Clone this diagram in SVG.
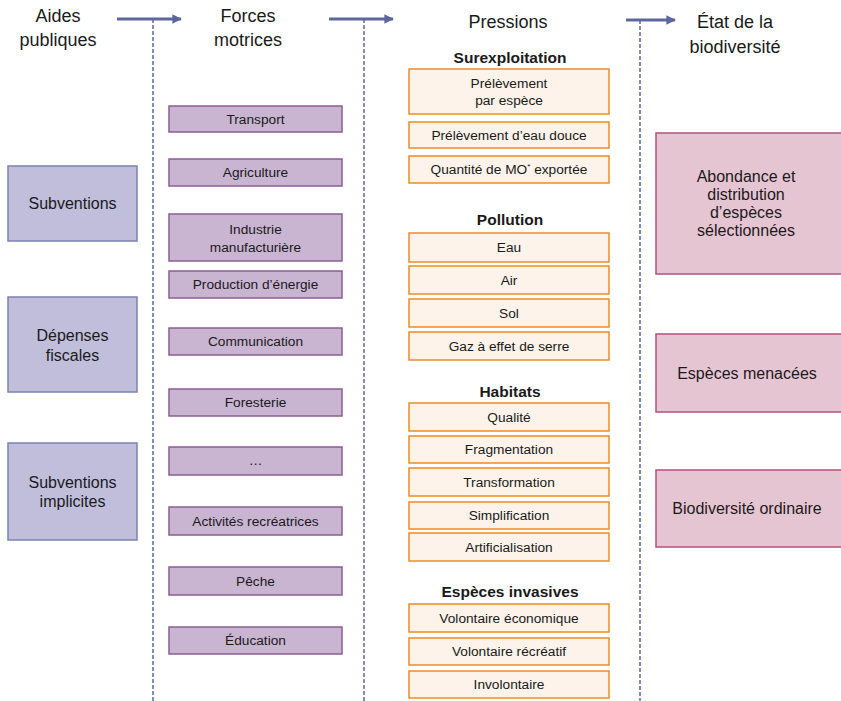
<svg xmlns="http://www.w3.org/2000/svg" width="841" height="701" viewBox="0 0 841 701">
<defs>
<style>
text{font-family:"Liberation Sans",Arial,sans-serif;fill:#1a1a1a;text-anchor:middle}
.h{font-size:18px}
.cat{font-size:15.5px;font-weight:bold}
.t{font-size:13.7px}
.l{font-size:16px}
.blue{fill:#c0bedb;stroke:#7a83b4;stroke-width:1.5}
.pur{fill:#c9b4d2;stroke:#8b5d92;stroke-width:1.5}
.ora{fill:#fdf3ea;stroke:#f08c23;stroke-width:1.5}
.pink{fill:#e6c5d3;stroke:#b5527f;stroke-width:1.5}
.arr{stroke:#5c669f;stroke-width:3;fill:none}
.dash{stroke:#5a68a5;stroke-width:1.5;stroke-dasharray:4 2;fill:none}
</style>
<marker id="ah" viewBox="0 0 10 10" refX="9" refY="5" markerWidth="4" markerHeight="3.2" orient="auto" markerUnits="strokeWidth">
<path d="M0,0 L10,5 L0,10 z" fill="#5c669f"/>
</marker>
</defs>

<g id="connectors">
<line class="dash" x1="153" y1="19" x2="153" y2="701"/>
<line class="dash" x1="364" y1="19" x2="364" y2="701"/>
<line class="dash" x1="640" y1="20" x2="640" y2="701"/>
<line class="arr" x1="117" y1="19" x2="181" y2="19" marker-end="url(#ah)"/>
<line class="arr" x1="329" y1="19" x2="393" y2="19" marker-end="url(#ah)"/>
<line class="arr" x1="626" y1="20" x2="675" y2="20" marker-end="url(#ah)"/>
</g>

<g id="headers">
<text class="h" x="58" y="22">Aides</text>
<text class="h" x="58" y="46">publiques</text>
<text class="h" x="248" y="22">Forces</text>
<text class="h" x="248" y="46">motrices</text>
<text class="h" x="508" y="28">Pressions</text>
<text class="h" x="735" y="28">État de la</text>
<text class="h" x="735" y="53">biodiversité</text>
<text class="cat" x="510" y="63">Surexploitation</text>
<text class="cat" x="510" y="225">Pollution</text>
<text class="cat" x="510" y="397">Habitats</text>
<text class="cat" x="510" y="597">Espèces invasives</text>
</g>

<g id="subventions"><rect class="blue" x="8" y="166" width="129" height="75"/><text class="l" x="72.5" y="209">Subventions</text></g>
<g id="depenses-fiscales"><rect class="blue" x="8" y="297" width="129" height="95"/><text class="l" x="72.5" y="341">Dépenses</text><text class="l" x="72.5" y="361">fiscales</text></g>
<g id="subventions-implicites"><rect class="blue" x="8" y="443" width="129" height="97"/><text class="l" x="72.5" y="488">Subventions</text><text class="l" x="72.5" y="507">implicites</text></g>

<g id="transport"><rect class="pur" x="169" y="106" width="173" height="26"/><text class="t" x="255.5" y="124">Transport</text></g>
<g id="agriculture"><rect class="pur" x="169" y="159" width="173" height="27"/><text class="t" x="255.5" y="177">Agriculture</text></g>
<g id="industrie"><rect class="pur" x="169" y="214" width="173" height="47"/><text class="t" x="255.5" y="234">Industrie</text><text class="t" x="255.5" y="252">manufacturière</text></g>
<g id="production-energie"><rect class="pur" x="169" y="271" width="173" height="27"/><text class="t" x="255.5" y="289">Production d’énergie</text></g>
<g id="communication"><rect class="pur" x="169" y="328" width="173" height="27"/><text class="t" x="255.5" y="346">Communication</text></g>
<g id="foresterie"><rect class="pur" x="169" y="389" width="173" height="27"/><text class="t" x="255.5" y="407">Foresterie</text></g>
<g id="etc"><rect class="pur" x="169" y="447" width="173" height="28"/><text class="t" x="255.5" y="465">…</text></g>
<g id="activites"><rect class="pur" x="169" y="507" width="173" height="28"/><text class="t" x="255.5" y="526">Activités recréatrices</text></g>
<g id="peche"><rect class="pur" x="169" y="567" width="173" height="28"/><text class="t" x="255.5" y="586">Pêche</text></g>
<g id="education"><rect class="pur" x="169" y="627" width="173" height="27"/><text class="t" x="255.5" y="645">Éducation</text></g>

<g id="prelevement-espece"><rect class="ora" x="409" y="69" width="200" height="45"/><text class="t" x="509" y="88">Prélèvement</text><text class="t" x="509" y="105">par espèce</text></g>
<g id="prelevement-eau"><rect class="ora" x="409" y="122" width="200" height="26"/><text class="t" x="509" y="140">Prélèvement d’eau douce</text></g>
<g id="quantite-mo"><rect class="ora" x="409" y="156" width="200" height="27"/><text class="t" x="509" y="174">Quantité de MO<tspan font-size="8" dy="-5">*</tspan><tspan dy="5"> exportée</tspan></text></g>
<g id="eau"><rect class="ora" x="409" y="233" width="200" height="29"/><text class="t" x="509" y="252">Eau</text></g>
<g id="air"><rect class="ora" x="409" y="266" width="200" height="28"/><text class="t" x="509" y="285">Air</text></g>
<g id="sol"><rect class="ora" x="409" y="299" width="200" height="28"/><text class="t" x="509" y="318">Sol</text></g>
<g id="gaz"><rect class="ora" x="409" y="332" width="200" height="28"/><text class="t" x="509" y="351">Gaz à effet de serre</text></g>
<g id="qualite"><rect class="ora" x="409" y="403" width="200" height="28"/><text class="t" x="509" y="422">Qualité</text></g>
<g id="fragmentation"><rect class="ora" x="409" y="436" width="200" height="27"/><text class="t" x="509" y="454">Fragmentation</text></g>
<g id="transformation"><rect class="ora" x="409" y="468" width="200" height="28"/><text class="t" x="509" y="487">Transformation</text></g>
<g id="simplification"><rect class="ora" x="409" y="502" width="200" height="27"/><text class="t" x="509" y="520">Simplification</text></g>
<g id="artificialisation"><rect class="ora" x="409" y="533" width="200" height="28"/><text class="t" x="509" y="552">Artificialisation</text></g>
<g id="volontaire-economique"><rect class="ora" x="409" y="604" width="200" height="28"/><text class="t" x="509" y="623">Volontaire économique</text></g>
<g id="volontaire-recreatif"><rect class="ora" x="409" y="638" width="200" height="27"/><text class="t" x="509" y="656">Volontaire récréatif</text></g>
<g id="involontaire"><rect class="ora" x="409" y="671" width="200" height="27"/><text class="t" x="509" y="689">Involontaire</text></g>

<g id="abondance"><rect class="pink" x="656" y="133" width="190" height="141"/><text class="l" x="746" y="182">Abondance et</text><text class="l" x="746" y="200">distribution</text><text class="l" x="746" y="218">d’espèces</text><text class="l" x="746" y="236">sélectionnées</text></g>
<g id="especes-menacees"><rect class="pink" x="656" y="334" width="190" height="78"/><text class="l" x="747" y="379">Espèces menacées</text></g>
<g id="biodiversite-ordinaire"><rect class="pink" x="656" y="470" width="190" height="77"/><text class="l" x="747" y="514">Biodiversité ordinaire</text></g>
</svg>
